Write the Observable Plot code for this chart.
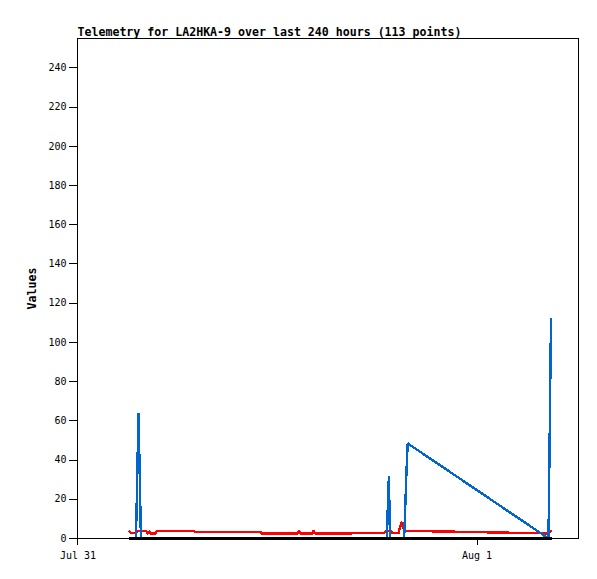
<!DOCTYPE html>
<html>
<head>
<meta charset="utf-8">
<script src="https://cdn.jsdelivr.net/npm/d3@7"></script>
<script src="https://cdn.jsdelivr.net/npm/@observablehq/plot@0.6"></script>
<style>
  html, body { margin: 0; padding: 0; background: #fff; }
</style>
</head>
<body>
<div id="chart"></div>
<script>
const title = "Telemetry for LA2HKA-9 over last 240 hours (113 points)";
const yLabel = "Values";

const times = [
  "2024-07-31T03:06Z","2024-07-31T03:10Z","2024-07-31T03:29Z","2024-07-31T03:33Z",
  "2024-07-31T03:38Z","2024-07-31T03:43Z","2024-07-31T03:47Z","2024-07-31T04:07Z",
  "2024-07-31T04:11Z","2024-07-31T04:18Z","2024-07-31T04:22Z","2024-07-31T04:40Z",
  "2024-07-31T04:43Z","2024-07-31T05:52Z","2024-07-31T07:00Z","2024-07-31T07:04Z",
  "2024-07-31T08:52Z","2024-07-31T10:59Z","2024-07-31T11:02Z","2024-07-31T12:11Z",
  "2024-07-31T13:12Z","2024-07-31T13:18Z","2024-07-31T13:23Z","2024-07-31T14:06Z",
  "2024-07-31T14:10Z","2024-07-31T14:15Z","2024-07-31T15:47Z","2024-07-31T17:18Z",
  "2024-07-31T18:26Z","2024-07-31T18:30Z","2024-07-31T18:35Z","2024-07-31T18:38Z",
  "2024-07-31T18:42Z","2024-07-31T18:46Z","2024-07-31T18:51Z","2024-07-31T18:55Z",
  "2024-07-31T19:17Z","2024-07-31T19:22Z","2024-07-31T19:28Z","2024-07-31T19:33Z",
  "2024-07-31T19:37Z","2024-07-31T19:40Z","2024-07-31T19:46Z","2024-07-31T19:50Z",
  "2024-08-01T04:11Z","2024-08-01T04:18Z","2024-08-01T04:22Z","2024-08-01T04:27Z"
];
const blueValues = [
  0, 0, 0, 24.5,
  64, 32, 0, 0,
  0, 0, 0, 0,
  0, 0, 0, 0,
  0, 0, 0, 0,
  0, 0, 0, 0,
  0, 0, 0, 0,
  0, 0, 0, 16,
  32, 0, 0, 0,
  0, 0, 0, 0,
  0, 12, 36, 48.5,
  0.7, 0, 48.5, 112
];
const redValues = [
  3.7, 2.8, 3.0, 3.7,
  3.7, 3.7, 3.7, 3.7,
  2.6, 3.5, 2.6, 2.6,
  3.7, 3.7, 3.7, 3.2,
  3.2, 3.2, 2.6, 2.6,
  2.6, 3.6, 2.6, 2.6,
  3.8, 2.6, 2.6, 2.7,
  2.9, 3.7, 3.7, 3.7,
  3.7, 3.7, 3.7, 2.9,
  2.9, 6.0, 8.2, 5.2,
  5.0, 3.7, 3.7, 3.9,
  2.6, 3.6, 3.6, 3.6
];
const blackValues = times.map(() => 0);

const yTicks = [0, 20, 40, 60, 80, 100, 120, 140, 160, 180, 200, 220, 240];
const xTicks = ["2024-07-31T00:00Z", "2024-08-01T00:00Z"];
const xTickLabels = ["Jul 31", "Aug 1"];
const xDomain = ["2024-07-30T23:58:12Z", "2024-08-01T06:06:18Z"];
const yDomain = [0, 255];

const data = times.map((t, i) => ({
  date: new Date(t),
  blue: blueValues[i],
  red: redValues[i],
  black: blackValues[i]
}));

const chart = Plot.plot({
  width: 597,
  height: 579,
  marginTop: 38,
  marginBottom: 41,
  marginLeft: 77,
  marginRight: 19,
  style: { fontFamily: "DejaVu Sans Mono", fontSize: "10px", background: "#fff", color: "#000" },
  x: { type: "utc", domain: xDomain.map(d => new Date(d)) },
  y: { domain: yDomain },
  marks: [
    Plot.line(data, { x: "date", y: "red", stroke: "#ff0000", strokeWidth: 2.4, shapeRendering: "crispEdges" }),
    Plot.line(data, { x: "date", y: "blue", stroke: "#0066cc", strokeWidth: 2.4, strokeLinejoin: "miter", shapeRendering: "crispEdges" }),
    Plot.line(data, { x: "date", y: "black", stroke: "#000", strokeWidth: 2.4, shapeRendering: "crispEdges" }),
    Plot.frame({ stroke: "#000", shapeRendering: "crispEdges" }),
    Plot.axisY({ ticks: yTicks, tickSize: 8, tickPadding: 3, label: null, stroke: "#000", strokeOpacity: 1, shapeRendering: "crispEdges" }),
    Plot.axisX({ ticks: xTicks.map(d => new Date(d)), tickSize: 7, tickPadding: 6, label: null,
      tickFormat: (d, i) => xTickLabels[i], stroke: "#000", strokeOpacity: 1, shapeRendering: "crispEdges" }),
    Plot.text([title], { frameAnchor: "top-left", textAnchor: "start", lineAnchor: "bottom", dy: -3,
      fontWeight: "bold", fontSize: 11.6, fill: "#000" }),
    Plot.text([yLabel], { frameAnchor: "left", dx: -45, rotate: -90, textAnchor: "middle", lineAnchor: "middle",
      fontWeight: "bold", fontSize: 11.6, fill: "#000" })
  ]
});
document.getElementById("chart").appendChild(chart);
</script>
</body>
</html>
